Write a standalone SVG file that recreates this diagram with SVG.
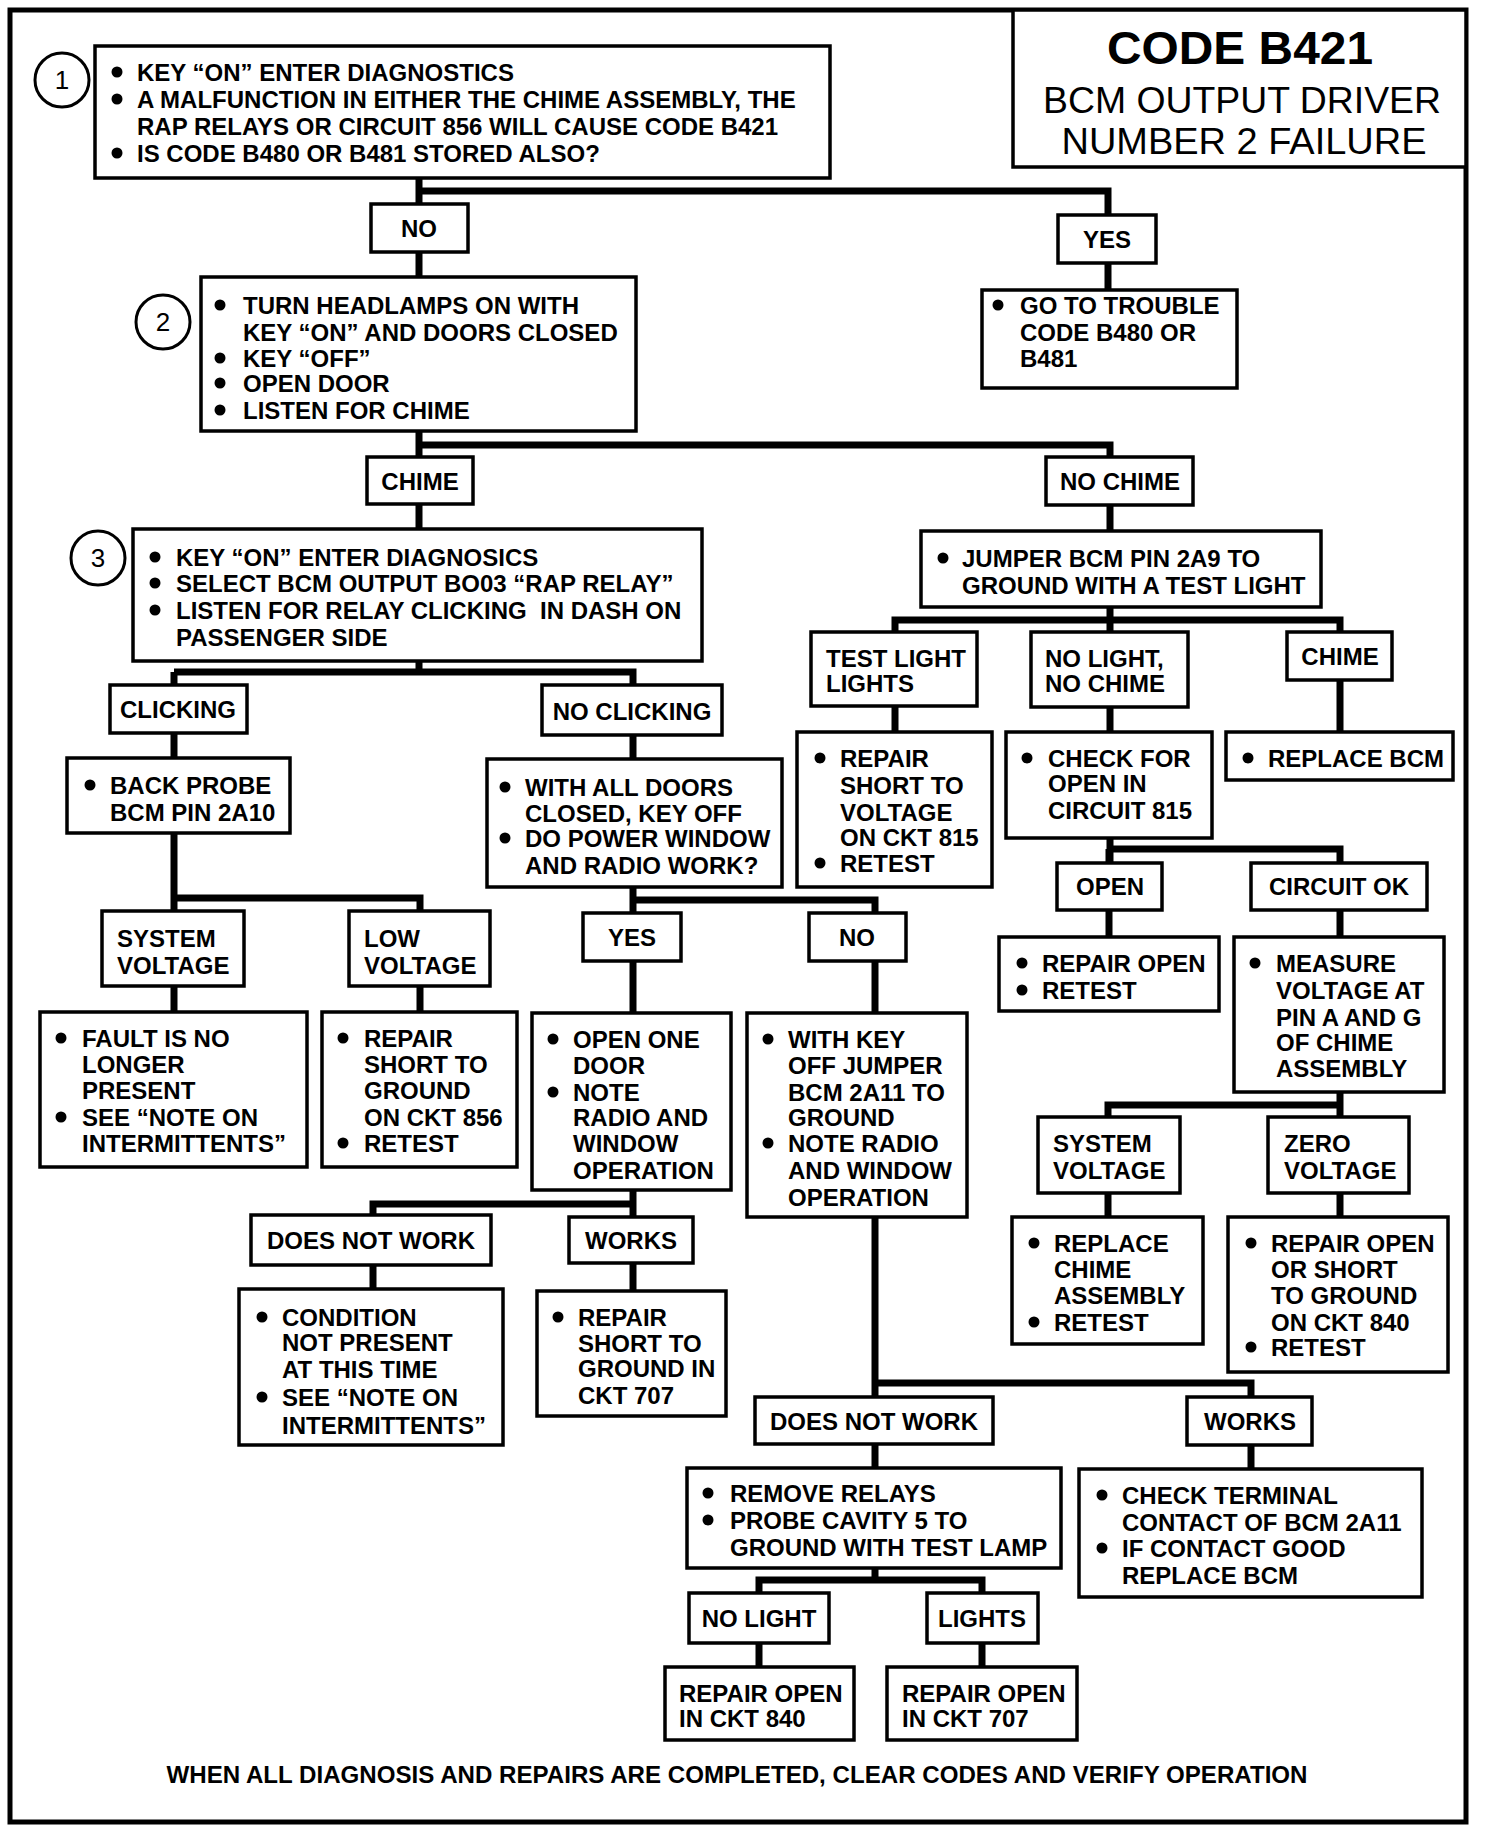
<svg xmlns="http://www.w3.org/2000/svg" width="1488" height="1832" viewBox="0 0 1488 1832">
<style>
.bx{fill:#fff;stroke:#000;stroke-width:3.5}
.t{font-family:"Liberation Sans",Arial,Helvetica,sans-serif;font-weight:bold;font-size:24px;fill:#000}
.m{text-anchor:middle}
.b{fill:#000}
.cn{fill:none;stroke:#000;stroke-width:7;stroke-linejoin:miter}
.cir{fill:#fff;stroke:#000;stroke-width:3}
.num{font-family:"Liberation Sans",Arial,sans-serif;font-size:26px;text-anchor:middle;fill:#000}
.tt{font-family:"Liberation Sans",Arial,sans-serif;text-anchor:middle;fill:#000}
</style>
<rect x="0" y="0" width="1488" height="1832" fill="#fff"/>
<rect x="10" y="10" width="1456" height="1812" fill="none" stroke="#000" stroke-width="5"/>
<g id="title">
<rect x="1013" y="10" width="453" height="157" fill="#fff" stroke="#000" stroke-width="3.5"/>
<text class="tt" x="1240" y="64" style="font-weight:bold;font-size:46px" textLength="266" lengthAdjust="spacingAndGlyphs">CODE B421</text>
<text class="tt" x="1242" y="113" style="font-size:36px" textLength="398" lengthAdjust="spacingAndGlyphs">BCM OUTPUT DRIVER</text>
<text class="tt" x="1244" y="154" style="font-size:36px" textLength="365" lengthAdjust="spacingAndGlyphs">NUMBER 2 FAILURE</text>
</g>
<g id="connectors">
<path class="cn" d="M419,178 V277 M419,191 H1108 V290"/>
<path class="cn" d="M419,431 V529 M419,445 H1110 V531"/>
<path class="cn" d="M419,661 V672 M174,672 H633 V759 M174,672 V1012 M174,898 H420 V1012"/>
<path class="cn" d="M633,887 V1291 M633,900 H875 V1580 M633,1204 H373 V1289"/>
<path class="cn" d="M875,1383 H1251 V1469 M759,1667 V1580 H982 V1667"/>
<path class="cn" d="M1110,607 V863 M895,732 V620 H1340 V732"/>
<path class="cn" d="M1109,849 V937 M1109,849 H1340 V937"/>
<path class="cn" d="M1340,1092 V1217 M1340,1105 H1108 V1217"/>
</g>
<g id="step1">
<circle class="cir" cx="62" cy="80" r="27"/><text class="num" x="62" y="89">1</text>
<rect class="bx" x="95" y="46" width="735" height="132"/>
<circle class="b" cx="117" cy="72" r="5.5"/><text class="t" x="137" y="81">KEY “ON” ENTER DIAGNOSTICS</text>
<circle class="b" cx="117" cy="99" r="5.5"/><text class="t" x="137" y="108">A MALFUNCTION IN EITHER THE CHIME ASSEMBLY, THE</text>
<text class="t" x="137" y="135">RAP RELAYS OR CIRCUIT 856 WILL CAUSE CODE B421</text>
<circle class="b" cx="117" cy="153" r="5.5"/><text class="t" x="137" y="162">IS CODE B480 OR B481 STORED ALSO?</text>
</g>
<g id="no1"><rect class="bx" x="371" y="204" width="97" height="48"/><text class="t m" x="419" y="237">NO</text></g>
<g id="yes1"><rect class="bx" x="1058" y="215" width="98" height="48"/><text class="t m" x="1107" y="248">YES</text></g>
<g id="goto">
<rect class="bx" x="982" y="290" width="255" height="98"/>
<circle class="b" cx="998" cy="305" r="5.5"/><text class="t" x="1020" y="314">GO TO TROUBLE</text>
<text class="t" x="1020" y="341">CODE B480 OR</text>
<text class="t" x="1020" y="367">B481</text>
</g>
<g id="step2">
<circle class="cir" cx="163" cy="322" r="27"/><text class="num" x="163" y="331">2</text>
<rect class="bx" x="201" y="277" width="435" height="154"/>
<circle class="b" cx="220" cy="305" r="5.5"/><text class="t" x="243" y="314">TURN HEADLAMPS ON WITH</text>
<text class="t" x="243" y="341">KEY “ON” AND DOORS CLOSED</text>
<circle class="b" cx="220" cy="358" r="5.5"/><text class="t" x="243" y="367">KEY “OFF”</text>
<circle class="b" cx="220" cy="383" r="5.5"/><text class="t" x="243" y="392">OPEN DOOR</text>
<circle class="b" cx="220" cy="410" r="5.5"/><text class="t" x="243" y="419">LISTEN FOR CHIME</text>
</g>
<g id="chime1"><rect class="bx" x="367" y="457" width="106" height="47"/><text class="t m" x="420" y="490">CHIME</text></g>
<g id="nochime"><rect class="bx" x="1046" y="457" width="147" height="48"/><text class="t m" x="1120" y="490">NO CHIME</text></g>
<g id="step3">
<circle class="cir" cx="98" cy="558" r="27"/><text class="num" x="98" y="567">3</text>
<rect class="bx" x="133" y="529" width="569" height="132"/>
<circle class="b" cx="155" cy="557" r="5.5"/><text class="t" x="176" y="566">KEY “ON” ENTER DIAGNOSICS</text>
<circle class="b" cx="155" cy="583" r="5.5"/><text class="t" x="176" y="592">SELECT BCM OUTPUT BO03 “RAP RELAY”</text>
<circle class="b" cx="155" cy="610" r="5.5"/><text class="t" x="176" y="619" xml:space="preserve">LISTEN FOR RELAY CLICKING  IN DASH ON</text>
<text class="t" x="176" y="646">PASSENGER SIDE</text>
</g>
<g id="jumper">
<rect class="bx" x="921" y="531" width="400" height="76"/>
<circle class="b" cx="943" cy="558" r="5.5"/><text class="t" x="962" y="567">JUMPER BCM PIN 2A9 TO</text>
<text class="t" x="962" y="594">GROUND WITH A TEST LIGHT</text>
</g>
<g id="clicking"><rect class="bx" x="110" y="685" width="137" height="48"/><text class="t m" x="178" y="718">CLICKING</text></g>
<g id="noclicking"><rect class="bx" x="542" y="685" width="180" height="50"/><text class="t m" x="632" y="720">NO CLICKING</text></g>
<g id="testlight"><rect class="bx" x="811" y="632" width="166" height="74"/><text class="t" x="826" y="667">TEST LIGHT</text><text class="t" x="826" y="692">LIGHTS</text></g>
<g id="nolightnochime"><rect class="bx" x="1031" y="632" width="157" height="75"/><text class="t" x="1045" y="667">NO LIGHT,</text><text class="t" x="1045" y="692">NO CHIME</text></g>
<g id="chime2"><rect class="bx" x="1287" y="632" width="105" height="48"/><text class="t m" x="1340" y="665">CHIME</text></g>
<g id="backprobe">
<rect class="bx" x="67" y="758" width="223" height="75"/>
<circle class="b" cx="90" cy="785" r="5.5"/><text class="t" x="110" y="794">BACK PROBE</text>
<text class="t" x="110" y="821">BCM PIN 2A10</text>
</g>
<g id="withalldoors">
<rect class="bx" x="487" y="759" width="295" height="128"/>
<circle class="b" cx="505" cy="787" r="5.5"/><text class="t" x="525" y="796">WITH ALL DOORS</text>
<text class="t" x="525" y="822">CLOSED, KEY OFF</text>
<circle class="b" cx="505" cy="838" r="5.5"/><text class="t" x="525" y="847">DO POWER WINDOW</text>
<text class="t" x="525" y="874">AND RADIO WORK?</text>
</g>
<g id="repairvoltage">
<rect class="bx" x="797" y="732" width="195" height="155"/>
<circle class="b" cx="820" cy="758" r="5.5"/><text class="t" x="840" y="767">REPAIR</text>
<text class="t" x="840" y="794">SHORT TO</text>
<text class="t" x="840" y="821">VOLTAGE</text>
<text class="t" x="840" y="846">ON CKT 815</text>
<circle class="b" cx="820" cy="863" r="5.5"/><text class="t" x="840" y="872">RETEST</text>
</g>
<g id="checkopen">
<rect class="bx" x="1006" y="732" width="206" height="106"/>
<circle class="b" cx="1027" cy="758" r="5.5"/><text class="t" x="1048" y="767">CHECK FOR</text>
<text class="t" x="1048" y="792">OPEN IN</text>
<text class="t" x="1048" y="819">CIRCUIT 815</text>
</g>
<g id="replacebcm">
<rect class="bx" x="1226" y="732" width="227" height="48"/>
<circle class="b" cx="1248" cy="758" r="5.5"/><text class="t" x="1268" y="767">REPLACE BCM</text>
</g>
<g id="open"><rect class="bx" x="1057" y="863" width="105" height="47"/><text class="t m" x="1110" y="895">OPEN</text></g>
<g id="circuitok"><rect class="bx" x="1251" y="863" width="176" height="47"/><text class="t m" x="1339" y="895">CIRCUIT OK</text></g>
<g id="repairopen">
<rect class="bx" x="999" y="937" width="220" height="74"/>
<circle class="b" cx="1022" cy="963" r="5.5"/><text class="t" x="1042" y="972">REPAIR OPEN</text>
<circle class="b" cx="1022" cy="990" r="5.5"/><text class="t" x="1042" y="999">RETEST</text>
</g>
<g id="measure">
<rect class="bx" x="1234" y="937" width="210" height="155"/>
<circle class="b" cx="1255" cy="963" r="5.5"/><text class="t" x="1276" y="972">MEASURE</text>
<text class="t" x="1276" y="999">VOLTAGE AT</text>
<text class="t" x="1276" y="1026">PIN A AND G</text>
<text class="t" x="1276" y="1051">OF CHIME</text>
<text class="t" x="1276" y="1077">ASSEMBLY</text>
</g>
<g id="sysvolt1"><rect class="bx" x="102" y="911" width="142" height="75"/><text class="t" x="117" y="947">SYSTEM</text><text class="t" x="117" y="974">VOLTAGE</text></g>
<g id="lowvolt"><rect class="bx" x="349" y="911" width="141" height="75"/><text class="t" x="364" y="947">LOW</text><text class="t" x="364" y="974">VOLTAGE</text></g>
<g id="yes2"><rect class="bx" x="583" y="913" width="98" height="48"/><text class="t m" x="632" y="946">YES</text></g>
<g id="no2"><rect class="bx" x="809" y="913" width="97" height="48"/><text class="t m" x="857" y="946">NO</text></g>
<g id="fault">
<rect class="bx" x="40" y="1012" width="267" height="155"/>
<circle class="b" cx="61" cy="1038" r="5.5"/><text class="t" x="82" y="1047">FAULT IS NO</text>
<text class="t" x="82" y="1073">LONGER</text>
<text class="t" x="82" y="1099">PRESENT</text>
<circle class="b" cx="61" cy="1117" r="5.5"/><text class="t" x="82" y="1126">SEE “NOTE ON</text>
<text class="t" x="82" y="1152">INTERMITTENTS”</text>
</g>
<g id="repair856">
<rect class="bx" x="322" y="1012" width="195" height="155"/>
<circle class="b" cx="343" cy="1038" r="5.5"/><text class="t" x="364" y="1047">REPAIR</text>
<text class="t" x="364" y="1073">SHORT TO</text>
<text class="t" x="364" y="1099">GROUND</text>
<text class="t" x="364" y="1126">ON CKT 856</text>
<circle class="b" cx="343" cy="1143" r="5.5"/><text class="t" x="364" y="1152">RETEST</text>
</g>
<g id="openonedoor">
<rect class="bx" x="532" y="1013" width="199" height="177"/>
<circle class="b" cx="553" cy="1039" r="5.5"/><text class="t" x="573" y="1048">OPEN ONE</text>
<text class="t" x="573" y="1074">DOOR</text>
<circle class="b" cx="553" cy="1092" r="5.5"/><text class="t" x="573" y="1101">NOTE</text>
<text class="t" x="573" y="1126">RADIO AND</text>
<text class="t" x="573" y="1152">WINDOW</text>
<text class="t" x="573" y="1179">OPERATION</text>
</g>
<g id="withkey">
<rect class="bx" x="747" y="1013" width="220" height="204"/>
<circle class="b" cx="768" cy="1039" r="5.5"/><text class="t" x="788" y="1048">WITH KEY</text>
<text class="t" x="788" y="1074">OFF JUMPER</text>
<text class="t" x="788" y="1101">BCM 2A11 TO</text>
<text class="t" x="788" y="1126">GROUND</text>
<circle class="b" cx="768" cy="1143" r="5.5"/><text class="t" x="788" y="1152">NOTE RADIO</text>
<text class="t" x="788" y="1179">AND WINDOW</text>
<text class="t" x="788" y="1206">OPERATION</text>
</g>
<g id="sysvolt2"><rect class="bx" x="1038" y="1117" width="142" height="76"/><text class="t" x="1053" y="1152">SYSTEM</text><text class="t" x="1053" y="1179">VOLTAGE</text></g>
<g id="zerovolt"><rect class="bx" x="1268" y="1117" width="141" height="76"/><text class="t" x="1284" y="1152">ZERO</text><text class="t" x="1284" y="1179">VOLTAGE</text></g>
<g id="replacechime">
<rect class="bx" x="1012" y="1217" width="191" height="127"/>
<circle class="b" cx="1034" cy="1243" r="5.5"/><text class="t" x="1054" y="1252">REPLACE</text>
<text class="t" x="1054" y="1278">CHIME</text>
<text class="t" x="1054" y="1304">ASSEMBLY</text>
<circle class="b" cx="1034" cy="1322" r="5.5"/><text class="t" x="1054" y="1331">RETEST</text>
</g>
<g id="repair840short">
<rect class="bx" x="1228" y="1217" width="220" height="155"/>
<circle class="b" cx="1251" cy="1243" r="5.5"/><text class="t" x="1271" y="1252">REPAIR OPEN</text>
<text class="t" x="1271" y="1278">OR SHORT</text>
<text class="t" x="1271" y="1304">TO GROUND</text>
<text class="t" x="1271" y="1331">ON CKT 840</text>
<circle class="b" cx="1251" cy="1347" r="5.5"/><text class="t" x="1271" y="1356">RETEST</text>
</g>
<g id="dnw1"><rect class="bx" x="251" y="1215" width="240" height="50"/><text class="t m" x="371" y="1249">DOES NOT WORK</text></g>
<g id="works1"><rect class="bx" x="569" y="1217" width="124" height="46"/><text class="t m" x="631" y="1249">WORKS</text></g>
<g id="condition">
<rect class="bx" x="239" y="1289" width="264" height="156"/>
<circle class="b" cx="262" cy="1317" r="5.5"/><text class="t" x="282" y="1326">CONDITION</text>
<text class="t" x="282" y="1351">NOT PRESENT</text>
<text class="t" x="282" y="1378">AT THIS TIME</text>
<circle class="b" cx="262" cy="1397" r="5.5"/><text class="t" x="282" y="1406">SEE “NOTE ON</text>
<text class="t" x="282" y="1434">INTERMITTENTS”</text>
</g>
<g id="repair707short">
<rect class="bx" x="537" y="1291" width="189" height="125"/>
<circle class="b" cx="558" cy="1317" r="5.5"/><text class="t" x="578" y="1326">REPAIR</text>
<text class="t" x="578" y="1352">SHORT TO</text>
<text class="t" x="578" y="1377">GROUND IN</text>
<text class="t" x="578" y="1404">CKT 707</text>
</g>
<g id="dnw2"><rect class="bx" x="755" y="1397" width="238" height="47"/><text class="t m" x="874" y="1430">DOES NOT WORK</text></g>
<g id="works2"><rect class="bx" x="1187" y="1397" width="125" height="48"/><text class="t m" x="1250" y="1430">WORKS</text></g>
<g id="removerelays">
<rect class="bx" x="687" y="1468" width="374" height="100"/>
<circle class="b" cx="708" cy="1493" r="5.5"/><text class="t" x="730" y="1502">REMOVE RELAYS</text>
<circle class="b" cx="708" cy="1520" r="5.5"/><text class="t" x="730" y="1529">PROBE CAVITY 5 TO</text>
<text class="t" x="730" y="1556">GROUND WITH TEST LAMP</text>
</g>
<g id="checkterminal">
<rect class="bx" x="1079" y="1469" width="343" height="128"/>
<circle class="b" cx="1102" cy="1495" r="5.5"/><text class="t" x="1122" y="1504">CHECK TERMINAL</text>
<text class="t" x="1122" y="1531">CONTACT OF BCM 2A11</text>
<circle class="b" cx="1102" cy="1548" r="5.5"/><text class="t" x="1122" y="1557">IF CONTACT GOOD</text>
<text class="t" x="1122" y="1584">REPLACE BCM</text>
</g>
<g id="nolight"><rect class="bx" x="689" y="1593" width="140" height="50"/><text class="t m" x="759" y="1627">NO LIGHT</text></g>
<g id="lights"><rect class="bx" x="927" y="1593" width="111" height="50"/><text class="t m" x="982" y="1627">LIGHTS</text></g>
<g id="repair840"><rect class="bx" x="665" y="1667" width="189" height="73"/><text class="t" x="679" y="1702">REPAIR OPEN</text><text class="t" x="679" y="1727">IN CKT 840</text></g>
<g id="repair707"><rect class="bx" x="887" y="1667" width="190" height="73"/><text class="t" x="902" y="1702">REPAIR OPEN</text><text class="t" x="902" y="1727">IN CKT 707</text></g>
<text class="t m" x="737" y="1783" textLength="1141" lengthAdjust="spacingAndGlyphs">WHEN ALL DIAGNOSIS AND REPAIRS ARE COMPLETED, CLEAR CODES AND VERIFY OPERATION</text>
</svg>
